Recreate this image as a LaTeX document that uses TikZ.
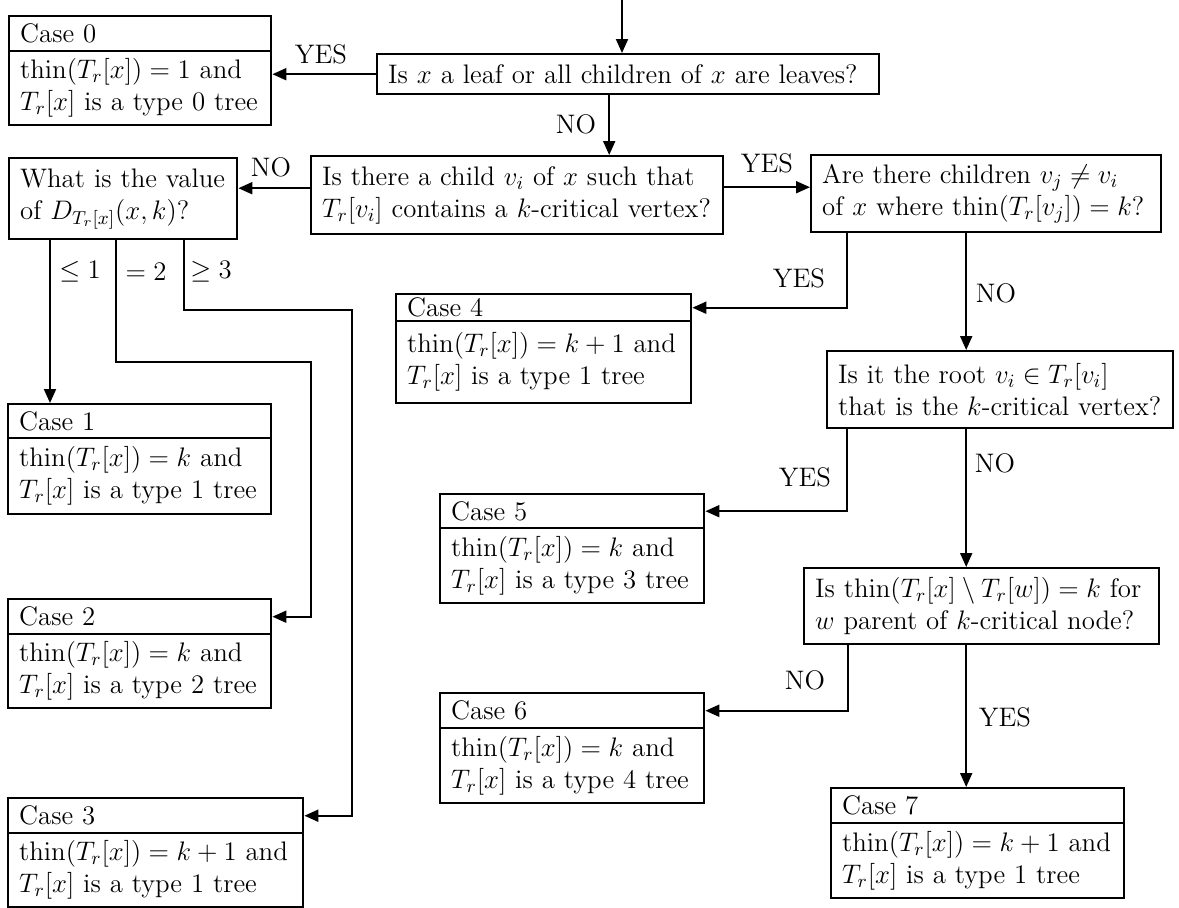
\RequirePackage{fix-cm}
\documentclass[tikz,border=0pt]{standalone}
\usepackage{amsmath}
\usetikzlibrary{arrows.meta}
\begin{document}
\begin{tikzpicture}[x=0.5pt,y=-0.5pt,
  font=\fontsize{13.4}{16}\selectfont,
  box/.style={draw, line width=1.2pt, anchor=north west, inner xsep=5.5pt, inner ysep=0pt, align=left},
  sz/.style n args={3}{minimum width=#1pt, text width=#2pt, minimum height=#3pt},
  arr/.style={line width=1pt, -{Triangle[length=7pt,width=6pt]}},
  lbl/.style={inner sep=0pt}]
\useasboundingbox (0,0) rectangle (1179,907);

% decision boxes
\node[box, sz={251}{240}{20}] (q1) at (376,53) {\mbox{Is $x$ a leaf or all children of $x$ are leaves?}};
\node[box, sz={206}{195}{39}] (q2) at (310,155) {\mbox{Is there a child $v_i$ of $x$ such that}\\\mbox{$T_r[v_i]$ contains a $k$-critical vertex?}};
\node[box, sz={114}{103}{40.5}] (dv) at (8,157) {\mbox{What is the value}\\\mbox{of $D_{T_r[x]}(x,k)$?}};
\node[box, sz={175}{164}{38.5}] (q3) at (810,154) {\mbox{Are there children $v_j \neq v_i$}\\\mbox{of $x$ where $\mathrm{thin}(T_r[v_j]) = k$?}};
\node[box, sz={173}{162}{38.5}] (q4) at (826,350) {\mbox{Is it the root $v_i \in T_r[v_i]$}\\\mbox{that is the $k$-critical vertex?}};
\node[box, sz={177.5}{166.5}{38}] (q5) at (803,567) {\mbox{Is $\mathrm{thin}(T_r[x] \setminus T_r[w]) = k$ for}\\\mbox{$w$ parent of $k$-critical node?}};

% case boxes
\node[box, sz={131}{120}{17.5}] (c0h) at (8,15) {Case 0};
\node[box, sz={131}{120}{37}] (c0) at (8,50) {\mbox{$\mathrm{thin}(T_r[x]) = 1$ and}\\\mbox{$T_r[x]$ is a type 0 tree}};
\node[box, sz={131.5}{120.5}{17}] (c1h) at (7,403) {Case 1};
\node[box, sz={131.5}{120.5}{38}] (c1) at (7,437) {\mbox{$\mathrm{thin}(T_r[x]) = k$ and}\\\mbox{$T_r[x]$ is a type 1 tree}};
\node[box, sz={131.5}{120.5}{17.5}] (c2h) at (7,598) {Case 2};
\node[box, sz={131.5}{120.5}{37}] (c2) at (7,633) {\mbox{$\mathrm{thin}(T_r[x]) = k$ and}\\\mbox{$T_r[x]$ is a type 2 tree}};
\node[box, sz={147.5}{136.5}{17.5}] (c3h) at (7,797) {Case 3};
\node[box, sz={147.5}{136.5}{37}] (c3) at (7,832) {\mbox{$\mathrm{thin}(T_r[x]) = k+1$ and}\\\mbox{$T_r[x]$ is a type 1 tree}};
\node[box, sz={147.5}{136.5}{13.5}] (c4h) at (395,293) {Case 4};
\node[box, sz={147.5}{136.5}{41}] (c4) at (395,320) {\mbox{$\mathrm{thin}(T_r[x]) = k+1$ and}\\\mbox{$T_r[x]$ is a type 1 tree}};
\node[box, sz={132}{121}{17}] (c5h) at (439,493) {Case 5};
\node[box, sz={132}{121}{37.5}] (c5) at (439,527) {\mbox{$\mathrm{thin}(T_r[x]) = k$ and}\\\mbox{$T_r[x]$ is a type 3 tree}};
\node[box, sz={132}{121}{17.5}] (c6h) at (439,692) {Case 6};
\node[box, sz={132}{121}{37.5}] (c6) at (439,727) {\mbox{$\mathrm{thin}(T_r[x]) = k$ and}\\\mbox{$T_r[x]$ is a type 4 tree}};
\node[box, sz={146.5}{135.5}{17.5}] (c7h) at (830,787) {Case 7};
\node[box, sz={146.5}{135.5}{37.5}] (c7) at (830,822) {\mbox{$\mathrm{thin}(T_r[x]) = k+1$ and}\\\mbox{$T_r[x]$ is a type 1 tree}};

% connectors
\coordinate (start) at (622,0);
\draw[arr] (start) -- (start |- q1.north);
\draw[arr] (q1.west) -- (q1.west -| c0.east);
\node[lbl] (ly0) at (321,54) {YES};
\draw[arr] ([xshift=-9.5pt]q1.south) -- ([xshift=-9.5pt]q1.south |- q2.north);
\node[lbl] (ln0) at (576,124) {NO};

\draw[arr] ([yshift=3.5pt]q2.west) -- ([yshift=3.5pt]q2.west -| dv.east);
\node[lbl] (ln1) at (271,167) {NO};
\draw[arr] ([yshift=4pt]q2.east) -- ([yshift=4pt]q2.east -| q3.west);
\node[lbl] (ly1) at (767,163) {YES};

\draw[arr] ([xshift=18.5pt]q3.south west) |- (c4h.east);
\node[lbl] (ly2) at (799,278) {YES};
\draw[arr] ([xshift=-10pt]q3.south) -- ([xshift=-10pt]q3.south |- q4.north);
\node[lbl] (ln2) at (996,293) {NO};

\draw[arr] ([xshift=10.5pt]q4.south west) |- (c5h.east);
\node[lbl] (ly3) at (805,477) {YES};
\draw[arr] ([xshift=-17pt]q4.south) -- ([xshift=-17pt]q4.south |- q5.north);
\node[lbl] (ln3) at (995,463) {NO};

\draw[arr] ([xshift=22.5pt]q5.south west) |- (c6h.east);
\node[lbl] (ln4) at (805,680) {NO};
\draw[arr] ([xshift=-7.75pt]q5.south) -- ([xshift=-7.75pt]q5.south |- c7h.north);
\node[lbl] (ly4) at (1005,717) {YES};

\draw[arr] ([xshift=21pt]dv.south west) -- ([xshift=21pt]dv.south west |- c1h.north);
\node[lbl] (lb1) at (80,272) {$\le 1$};
\draw[arr] ([xshift=54pt]dv.south west) -- ++(0,122) -| ([xshift=19.5pt]c2h.east) -- (c2h.east);
\node[lbl] (lb2) at (146,272) {$=2$};
\draw[arr] ([xshift=88pt]dv.south west) -- ++(0,70) -| ([xshift=24pt]c3h.east) -- (c3h.east);
\node[lbl] (lb3) at (211,272) {$\ge 3$};
\end{tikzpicture}
\end{document}
